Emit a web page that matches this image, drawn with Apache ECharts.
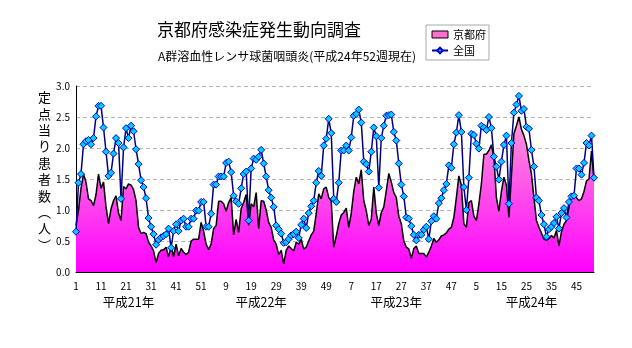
<!DOCTYPE html>
<html><head><meta charset="utf-8">
<script src="https://cdn.jsdelivr.net/npm/echarts@6/dist/echarts.min.js"></script>
<style>html,body{margin:0;padding:0;background:#fff}#c{width:632px;height:348px}</style>
</head><body><div id="c"></div>
<script>
// ---- data ----
const titleText = '京都府感染症発生動向調査';
const subtitleText = 'A群溶血性レンサ球菌咽頭炎(平成24年52週現在)';
const seriesNames = ['京都府', '全国'];
const yAxisTitle = ['定','点','当','り','患','者','数','︵','人','︶'];
const years = [2009, 2010, 2011, 2012];
const weeksPerYear = [52, 52, 52, 52];
const yearLabels = ['平成21年', '平成22年', '平成23年', '平成24年'];
const yearLabelIndex = [21, 74, 128, 182];
const yTicks = [0, 0.5, 1.0, 1.5, 2.0, 2.5, 3.0];

const kyoto = [
0.75,1.00,1.35,1.58,1.45,1.18,1.15,1.07,1.25,1.58,
1.35,1.45,1.05,0.78,1.02,1.15,1.23,0.95,0.83,1.38,
1.34,1.42,1.40,1.33,1.15,0.72,0.62,0.64,0.62,0.48,
0.42,0.34,0.15,0.30,0.35,0.36,0.40,0.24,0.42,0.25,
0.45,0.26,0.38,0.32,0.28,0.32,0.50,0.53,0.53,0.53,
0.80,0.66,0.45,0.36,0.45,0.70,0.75,1.14,1.14,1.10,
0.98,1.12,1.20,0.60,0.85,0.64,1.02,1.12,1.25,0.75,
1.10,1.05,1.28,0.70,1.15,1.14,1.00,0.80,0.72,0.52,
0.45,0.28,0.35,0.13,0.35,0.42,0.38,0.34,0.48,0.45,
0.53,0.37,0.40,0.50,0.60,0.66,0.94,1.26,1.18,1.34,
1.37,1.20,1.15,0.40,0.58,0.78,0.92,0.96,1.03,0.72,
0.95,1.30,1.53,1.42,1.65,1.15,0.99,0.75,0.85,1.37,
0.95,0.75,0.96,1.05,1.31,1.59,1.45,1.28,1.20,0.90,
0.78,0.50,0.40,0.37,0.22,0.38,0.42,0.30,0.30,0.30,
0.24,0.32,0.42,0.54,0.48,0.52,0.58,0.60,0.63,0.69,
0.72,0.88,1.20,1.55,1.40,0.78,0.72,1.12,1.15,0.90,
0.83,1.10,1.42,1.90,1.90,1.96,2.05,1.85,1.20,0.98,
1.30,1.53,1.40,0.88,1.55,2.23,2.36,2.50,2.30,2.20,
2.06,1.80,1.58,1.20,0.83,0.72,0.63,0.53,0.51,0.54,
0.59,0.55,0.67,0.42,0.65,0.77,0.83,1.04,1.26,1.26,
1.20,1.15,1.18,1.30,1.47,1.50,1.95,1.47];

const zenkoku = [
0.65,1.44,1.58,2.06,2.11,2.13,2.06,2.16,2.51,2.68,
2.68,2.33,1.94,1.55,1.60,1.91,2.16,2.08,1.18,2.01,
2.32,2.16,2.36,2.27,1.98,1.74,1.48,1.37,1.19,0.87,
0.73,0.61,0.44,0.52,0.56,0.58,0.61,0.70,0.39,0.66,
0.77,0.66,0.83,0.86,0.73,0.73,0.86,0.86,0.99,0.99,
1.13,1.13,0.73,0.73,0.94,1.41,1.41,1.54,1.54,1.54,
1.76,1.78,1.61,1.23,1.14,1.10,1.35,1.58,1.62,0.83,
1.67,1.83,1.81,1.86,1.97,1.75,1.54,1.32,1.20,1.05,
0.75,0.69,0.62,0.47,0.48,0.53,0.59,0.61,0.65,0.55,
0.76,0.86,0.71,0.95,1.06,1.15,1.44,1.63,1.55,2.04,
2.15,2.47,2.24,1.18,1.13,1.44,1.96,1.96,2.04,1.96,
2.17,2.52,2.55,2.62,2.41,1.78,1.74,1.62,1.94,2.33,
2.19,1.36,2.16,2.36,2.52,2.53,2.54,2.26,2.12,1.75,
1.41,1.22,0.88,0.86,0.74,0.60,0.51,0.60,0.60,0.68,
0.73,0.53,0.82,0.90,0.86,1.11,1.19,1.32,1.42,1.72,
1.68,2.06,2.25,2.53,2.26,1.37,1.00,1.52,2.23,2.21,
2.07,1.99,2.36,2.33,2.29,2.50,2.32,1.86,1.70,1.49,
1.78,2.05,2.20,1.10,2.08,2.57,2.70,2.84,2.60,2.63,
2.34,2.31,1.97,1.70,1.20,1.15,0.92,0.77,0.57,0.69,
0.73,0.79,0.89,0.70,0.95,1.03,0.88,1.13,1.22,1.23,
1.67,1.67,1.57,1.76,2.08,2.04,2.20,1.52];

// categories: year-week
const categories = [];
years.forEach((y, k) => { for (let w = 1; w <= weeksPerYear[k]; w++) categories.push(y + '-' + w); });

const FONT = '"Noto Sans CJK JP", "Noto Sans", sans-serif';
const chart = echarts.init(document.getElementById('c'), null, {renderer: 'canvas'});

chart.setOption({
  animation: false,
  backgroundColor: '#ffffff',
  textStyle: {fontFamily: FONT, color: '#000'},
  title: [
    {text: titleText, left: 152, top: 16, textStyle: {fontFamily: FONT, fontSize: 17, fontWeight: 'normal', color: '#000'}},
    {text: subtitleText, left: 153, top: 45, textStyle: {fontFamily: FONT, fontSize: 12, fontWeight: 'normal', color: '#000'}}
  ],
  legend: {
    left: 426, top: 25, orient: 'vertical',
    padding: [4, 3, 4, 5], itemGap: 5, itemWidth: 16, itemHeight: 7,
    borderColor: '#a8a8a8', borderWidth: 1,
    textStyle: {fontFamily: FONT, fontSize: 11, color: '#000'},
    data: [
      {name: seriesNames[0], icon: 'rect', itemStyle: {color: '#ff6fd0', borderColor: '#000', borderWidth: 1}},
      {name: seriesNames[1]}
    ]
  },
  grid: {left: 76, right: 38, top: 86, bottom: 76, containLabel: false},
  xAxis: {
    type: 'category', data: categories, boundaryGap: false,
    axisLine: {show: true, lineStyle: {color: '#000', width: 1}},
    axisTick: {show: true, inside: true, length: 3, interval: 4, lineStyle: {color: '#000'}},
    axisLabel: {
      interval: 9, margin: 9, fontSize: 10, color: '#000', fontFamily: FONT,
      formatter: v => v.split('-')[1]
    },
    splitLine: {show: false}
  },
  yAxis: {
    type: 'value', min: yTicks[0], max: yTicks[yTicks.length - 1], interval: 0.5,
    axisLine: {show: true, lineStyle: {color: '#000', width: 1}},
    axisTick: {show: false},
    axisLabel: {fontSize: 10, color: '#000', margin: 6, fontFamily: FONT, formatter: v => v.toFixed(1)},
    splitLine: {show: true, lineStyle: {color: '#b4b4b4', type: [4, 3], width: 1}}
  },
  series: [
    {
      name: seriesNames[0], type: 'line', data: kyoto, symbol: 'none', showSymbol: false,
      lineStyle: {color: '#000', width: 1.5},
      itemStyle: {color: '#ff6fd0'},
      areaStyle: {
        opacity: 1,
        color: new echarts.graphic.LinearGradient(0, 0, 0, 1, [
          {offset: 0, color: '#ff9ad8'},
          {offset: 1, color: '#ff00ff'}
        ])
      },
      z: 2
    },
    {
      name: seriesNames[1], type: 'line', data: zenkoku,
      symbol: 'diamond', symbolSize: 7, showSymbol: true, showAllSymbol: true,
      lineStyle: {color: '#000080', width: 1.5},
      itemStyle: {color: '#00ccff', borderColor: '#0000cc', borderWidth: 1},
      z: 3
    }
  ]
});

const graphics = [];
graphics.push({
  type: 'text', left: 38, top: 89,
  style: {text: yAxisTitle.join('\n'), fontFamily: FONT, fontSize: 13, lineHeight: 16.4, fill: '#000', align: 'center'}
});
yearLabels.forEach((t, k) => {
  const px = chart.convertToPixel({xAxisIndex: 0}, yearLabelIndex[k]);
  graphics.push({
    type: 'text', x: px, y: 302,
    style: {text: t, fontFamily: FONT, fontSize: 12.5, fill: '#000', align: 'center', verticalAlign: 'middle'}
  });
});
chart.setOption({graphic: graphics});
</script>
</body></html>
